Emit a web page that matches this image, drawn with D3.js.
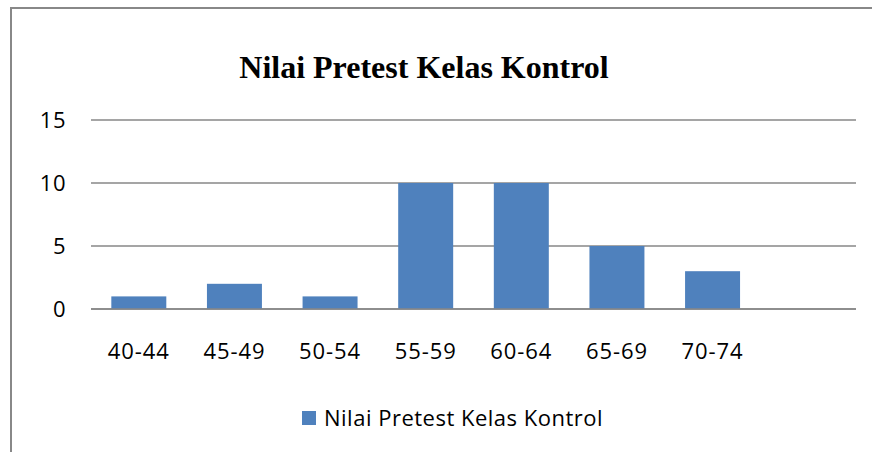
<!DOCTYPE html>
<html>
<head>
<meta charset="utf-8">
<script src="https://cdn.jsdelivr.net/npm/d3@7"></script>
<style>
  html, body { margin: 0; background: #fff; overflow: hidden; }
  svg { display: block; }
  text { fill: #000; }
</style>
</head>
<body>
<div id="chart"></div>
<script>
// data
var categories = ["40-44", "45-49", "50-54", "55-59", "60-64", "65-69", "70-74", ""];
var values = [1, 2, 1, 10, 10, 5, 3, null];
var yTicks = [0, 5, 10, 15];
var seriesName = "Nilai Pretest Kelas Kontrol";
var chartTitle = "Nilai Pretest Kelas Kontrol";

var svgWidth = 872;
var svgHeight = 452;

var plot = { left: 91, right: 856, top: 120, bottom: 309 };

var svg = d3.select("#chart")
    .append("svg")
    .attr("width", svgWidth)
    .attr("height", svgHeight);

// outer chart border: only the top and left edges are inside the picture
svg.append("path")
    .attr("d", `M11,${svgHeight} V8 H${svgWidth}`)
    .attr("fill", "none")
    .attr("stroke", "#888")
    .attr("stroke-width", 2);

var xScale = d3.scaleBand()
    .domain(d3.range(categories.length))
    .range([plot.left, plot.right])
    .paddingInner(0.425)
    .paddingOuter(0.2125);

var yScale = d3.scaleLinear()
    .domain([0, 15])
    .range([plot.bottom, plot.top]);

// gridlines
svg.append("g")
    .selectAll("line")
    .data(yTicks)
    .enter()
    .append("line")
    .attr("x1", plot.left)
    .attr("x2", plot.right)
    .attr("y1", d => yScale(d))
    .attr("y2", d => yScale(d))
    .attr("stroke", "#878787")
    .attr("stroke-width", 1.5);

// y tick labels
svg.append("g")
    .selectAll("text")
    .data(yTicks)
    .enter()
    .append("text")
    .attr("x", 66)
    .attr("y", d => yScale(d))
    .attr("dy", "0.36em")
    .attr("text-anchor", "end")
    .style("font-family", "'Open Sans', sans-serif")
    .style("font-size", "22px")
    .style("letter-spacing", "0.5px")
    .text(d => d);

// bars
svg.append("g")
    .selectAll("rect")
    .data(values.map((v, i) => ({ i: i, v: v })).filter(d => d.v != null))
    .enter()
    .append("rect")
    .attr("x", d => xScale(d.i))
    .attr("y", d => yScale(d.v))
    .attr("width", xScale.bandwidth())
    .attr("height", d => yScale(0) - yScale(d.v))
    .attr("fill", "#4F81BD");

// baseline drawn over bars
svg.append("line")
    .attr("x1", plot.left)
    .attr("x2", plot.right)
    .attr("y1", yScale(0))
    .attr("y2", yScale(0))
    .attr("stroke", "#878787")
    .attr("stroke-width", 1.5);

// x labels
svg.append("g")
    .selectAll("text")
    .data(categories)
    .enter()
    .append("text")
    .attr("x", (d, i) => xScale(i) + xScale.bandwidth() / 2)
    .attr("y", 359)
    .attr("text-anchor", "middle")
    .style("font-family", "'Open Sans', sans-serif")
    .style("font-size", "22px")
    .style("letter-spacing", "0.9px")
    .text(d => d);

// title
svg.append("text")
    .attr("x", 424)
    .attr("y", 78)
    .attr("text-anchor", "middle")
    .style("font-family", "'Liberation Serif', 'Times New Roman', serif")
    .style("font-weight", "bold")
    .style("font-size", "32px")
    .text(chartTitle);

// legend
var legend = svg.append("g");
legend.append("rect")
    .attr("x", 302)
    .attr("y", 411)
    .attr("width", 14)
    .attr("height", 14)
    .attr("fill", "#4F81BD");
legend.append("text")
    .attr("x", 324)
    .attr("y", 426)
    .style("font-family", "'Open Sans', sans-serif")
    .style("font-size", "22px")
    .style("letter-spacing", "0.5px")
    .text(seriesName);
</script>
</body>
</html>
